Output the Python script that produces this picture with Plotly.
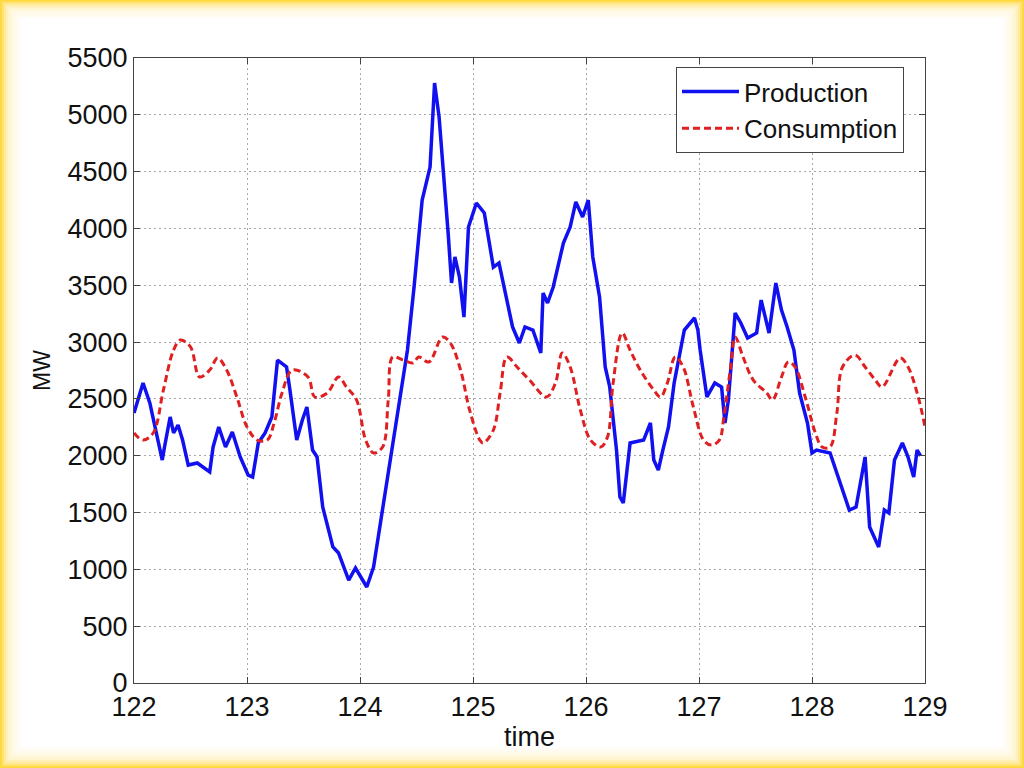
import plotly.graph_objects as go

# Production (blue)
prod_t = [122.0, 122.08, 122.14, 122.25, 122.27, 122.32, 122.35, 122.39, 122.43, 122.48,
          122.56, 122.67, 122.70, 122.75, 122.81, 122.87, 122.94, 123.01, 123.05, 123.10,
          123.16, 123.22, 123.27, 123.35, 123.38, 123.44, 123.49, 123.53, 123.58, 123.62,
          123.67, 123.76, 123.81, 123.90, 123.96, 124.06, 124.12, 124.19, 124.28, 124.36,
          124.42, 124.48, 124.55, 124.62, 124.66, 124.70, 124.73, 124.78, 124.81, 124.84,
          124.88, 124.92, 124.96, 125.03, 125.10, 125.18, 125.23, 125.29, 125.35, 125.41,
          125.46, 125.53, 125.60, 125.62, 125.66, 125.71, 125.80, 125.86, 125.91, 125.97,
          126.02, 126.06, 126.12, 126.17, 126.21, 126.27, 126.30, 126.33, 126.39, 126.51,
          126.57, 126.60, 126.64, 126.68, 126.73, 126.78, 126.87, 126.96, 126.99, 127.01,
          127.07, 127.14, 127.20, 127.23, 127.26, 127.32, 127.37, 127.43, 127.51, 127.55,
          127.62, 127.68, 127.73, 127.78, 127.84, 127.89, 127.96, 128.00, 128.04, 128.16,
          128.27, 128.33, 128.39, 128.43, 128.47, 128.51, 128.59, 128.64, 128.68, 128.73,
          128.80, 128.85, 128.90, 128.93, 128.96]
prod_v = [2376, 2640, 2464, 1962, 2077, 2341, 2200, 2270, 2138, 1918,
          1936, 1857, 2077, 2253, 2077, 2209, 1989, 1830, 1813, 2112,
          2200, 2341, 2842, 2781, 2578, 2138, 2314, 2429, 2050, 1989,
          1549, 1197, 1144, 906, 1012, 845, 1021, 1461, 2050, 2517,
          2930, 3500, 4250, 4540, 5280, 4980, 4630, 3960, 3520, 3750,
          3573, 3220, 4013, 4224, 4136, 3660, 3696, 3397, 3133, 2992,
          3133, 3106, 2904, 3432, 3344, 3485, 3872, 4013, 4233, 4101,
          4250, 3749, 3397, 2781, 2605, 2050, 1637, 1584, 2112, 2138,
          2288, 1962, 1874, 2050, 2253, 2640, 3106, 3212, 3106, 2930,
          2517, 2640, 2605, 2288, 2490, 3256, 3168, 3036, 3080, 3370,
          3080, 3520, 3282, 3133, 2930, 2552, 2288, 2024, 2050, 2024,
          1698, 1522, 1549, 1786, 1989, 1373, 1197, 1522, 1496, 1962,
          2112, 1989, 1813, 2050, 2000]

# Consumption (red dashed)
cons_t = [122.0, 122.08, 122.17, 122.26, 122.35, 122.41, 122.50, 122.58, 122.67, 122.74,
          122.82, 122.91, 123.00, 123.09, 123.18, 123.24, 123.31, 123.40, 123.54, 123.60,
          123.71, 123.81, 123.88, 123.97, 124.05, 124.12, 124.20, 124.25, 124.29, 124.38,
          124.47, 124.52, 124.61, 124.73, 124.80, 124.89, 124.97, 125.06, 125.09, 125.18,
          125.24, 125.30, 125.39, 125.50, 125.65, 125.73, 125.79, 125.86, 125.95, 126.04,
          126.13, 126.19, 126.24, 126.32, 126.39, 126.48, 126.60, 126.66, 126.72, 126.79,
          126.86, 126.95, 127.04, 127.11, 127.18, 127.22, 127.28, 127.32, 127.39, 127.48,
          127.60, 127.65, 127.73, 127.79, 127.85, 127.94, 128.03, 128.09, 128.16, 128.22,
          128.27, 128.38, 128.47, 128.56, 128.62, 128.78, 128.85, 128.94, 129.0]
cons_v = [2200, 2138, 2200, 2578, 2930, 3018, 2957, 2693, 2754, 2860,
          2754, 2517, 2253, 2138, 2138, 2288, 2552, 2754, 2693, 2517,
          2552, 2693, 2605, 2490, 2138, 2024, 2077, 2490, 2869, 2842,
          2816, 2869, 2825, 3045, 2992, 2754, 2402, 2138, 2112, 2226,
          2552, 2869, 2781, 2666, 2517, 2640, 2904, 2781, 2402, 2138,
          2077, 2165, 2640, 3080, 2930, 2754, 2578, 2517, 2640, 2869,
          2781, 2429, 2138, 2094, 2138, 2341, 2781, 3045, 2869, 2666,
          2552, 2490, 2693, 2825, 2781, 2517, 2200, 2077, 2077, 2376,
          2781, 2886, 2781, 2666, 2605, 2860, 2781, 2517, 2253]

x_ticks = [122, 123, 124, 125, 126, 127, 128, 129]
y_ticks = [0, 500, 1000, 1500, 2000, 2500, 3000, 3500, 4000, 4500, 5000, 5500]

FONT = "Liberation Sans, Arial, Helvetica"

fig = go.Figure()
fig.add_trace(go.Scatter(x=prod_t, y=prod_v, mode="lines", name="Production",
                         line=dict(color="#1010F0", width=3.5)))
fig.add_trace(go.Scatter(x=cons_t, y=cons_v, mode="lines", name="Consumption",
                         line=dict(color="#E02020", width=3, dash="7px,4px", shape="spline")))

W, H = 1024, 768
L, R, T, B = 134, 925, 58, 683


def px(x):
    return (x - L) / (R - L)


def py(y):
    return (B - y) / (B - T)


shapes = []
# glowing yellow frame: stacked translucent white insets
for inset in [2, 4, 6, 8, 10, 12, 14, 16, 18, 20]:
    shapes.append(dict(type="rect", xref="paper", yref="paper", layer="below",
                       x0=px(inset), x1=px(W - inset), y0=py(H - inset), y1=py(inset * 0.9),
                       fillcolor="white", opacity=0.28 if inset < 20 else 1.0,
                       line=dict(width=0)))
fig.update_layout(shapes=shapes)

axis_common = dict(showgrid=True, gridcolor="#A8A8A8", griddash="2px,3px", gridwidth=1,
                   showline=True, linecolor="#444444", linewidth=1, mirror="ticks",
                   ticks="inside", ticklen=6, tickcolor="#444444", zeroline=False,
                   tickfont=dict(family=FONT, size=27, color="#111111"))

fig.update_xaxes(range=[122, 129], tickvals=x_ticks, **axis_common,
                 title=dict(text="time", font=dict(family=FONT, size=27, color="#111111"),
                            standoff=5))
fig.update_yaxes(range=[0, 5500], tickvals=y_ticks, **axis_common,
                 title=dict(text="MW", font=dict(family=FONT, size=23, color="#111111"),
                            standoff=10))

fig.update_layout(
    width=W, height=H,
    margin=dict(l=L, r=W - R, t=T, b=H - B, autoexpand=False),
    paper_bgcolor="#FFD940",
    plot_bgcolor="white",
    showlegend=True,
    legend=dict(x=px(676), y=py(67), xanchor="left", yanchor="top",
                bgcolor="white", bordercolor="#444444", borderwidth=1,
                font=dict(family=FONT, size=26, color="#111111"),
                tracegroupgap=0, itemwidth=57),
)

fig.write_html("out.html", config={"displayModeBar": False},
               post_script="document.body.style.margin='0';document.body.style.padding='0';")
